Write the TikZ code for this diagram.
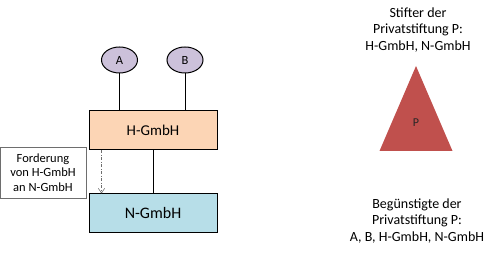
\documentclass[tikz,border=0pt]{standalone}
\usepackage{fontspec}
\setmainfont{Carlito}
\usetikzlibrary{positioning,arrows.meta,calc,shapes.geometric}
\definecolor{PersonLilac}{RGB}{204,193,218}
\definecolor{HoldingPeach}{RGB}{252,213,181}
\definecolor{SubBlue}{RGB}{183,222,232}
\definecolor{TrustRed}{RGB}{192,80,77}
\definecolor{ClaimGray}{RGB}{110,110,110}
\tikzset{
  link/.style={line width=1pt,draw=black},
  claimflow/.style={-{Straight Barb[length=1.6mm,width=2.2mm]},semithick,draw=ClaimGray,
    dash pattern=on 3pt off 1.5pt on 1pt off 1.5pt},
  person/.style={ellipse,draw=black,fill=PersonLilac,line width=1pt,
    minimum width=36pt,minimum height=26pt,inner sep=0pt,font=\fontsize{12.5}{14}\selectfont},
  firmbox/.style={draw=black,line width=1pt,minimum width=128pt,minimum height=39pt,
    inner sep=0pt},
  notebox/.style={draw=ClaimGray,fill=white,line width=0.8pt,minimum width=86pt,
    minimum height=51pt,align=center,inner sep=0pt,font=\fontsize{12.5}{14.5}\selectfont},
  caption/.style={align=center,inner sep=0pt,font=\fontsize{14}{16.5}\selectfont}
}
\begin{document}
\begin{tikzpicture}[x=1pt,y=-1pt]
  \useasboundingbox (0,0) rectangle (495,253);
  % left: shareholders and companies
  \node[person] (a) at (119.5,60) {A};
  \node[person] (b) at (185,60) {B};
  \node[firmbox,fill=HoldingPeach,font=\fontsize{15}{17}\selectfont] (hgmbh) at (153,130.5) {H-GmbH};
  \node[firmbox,fill=SubBlue,font=\fontsize{16}{18}\selectfont] (ngmbh) at (153,213.5) {N-GmbH};
  \node[notebox] (claim) at (43,172.5) {Forderung\\von H-GmbH\\an N-GmbH};
  \draw[link] (a) -- (a |- hgmbh.north);
  \draw[link] (b) -- (b |- hgmbh.north);
  \draw[link] (hgmbh) -- (ngmbh);
  \draw[claimflow] ([xshift=13pt]hgmbh.south west) -- ([xshift=13pt]ngmbh.north west);
  % right: private foundation
  \node[caption] (founders) at (418,30) {Stifter der\\Privatstiftung P:\\H-GmbH, N-GmbH};
  \node[inner sep=0pt] (p) at (416,123) {};
  \fill[TrustRed] (416,66) -- (452.5,151) -- (379.5,151) -- cycle;
  \node[inner sep=0pt,font=\fontsize{12}{14}\selectfont,text=black!85] at (p) {P};
  \node[caption] (beneficiaries) at (417,221) {Begünstigte der\\Privatstiftung P:\\A, B, H-GmbH, N-GmbH};
\end{tikzpicture}
\end{document}
